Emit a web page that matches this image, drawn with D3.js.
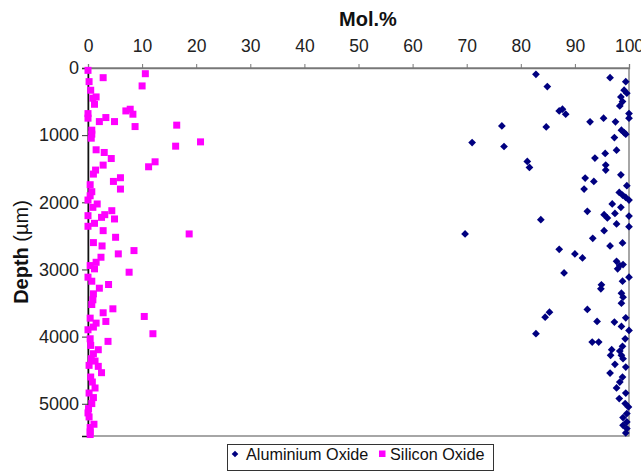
<!DOCTYPE html>
<html>
<head>
<meta charset="utf-8">
<script src="https://cdn.jsdelivr.net/npm/d3@7"></script>
<style>
  body { margin: 0; background: #fff; }
  text { font-family: "Liberation Sans", Arial, sans-serif; }
</style>
</head>
<body>
<div id="chart"></div>
<script>
// [Mol.%, depth in µm]
const aluminium = [
  [82.8, 94], [96.5, 144], [84.9, 277], [99.4, 203], [99.1, 331], [99.6, 376],
  [98.5, 431], [98.8, 500], [98.3, 565], [87.1, 639], [87.7, 614], [88.3, 688],
  [100, 679], [100, 747], [76.5, 862], [84.7, 877], [92.8, 802], [95.3, 747],
  [97.5, 802], [98.6, 926], [99.1, 961], [99.4, 985], [71.0, 1110], [76.9, 1169],
  [97.3, 1035], [97.7, 1223], [95.6, 1273], [93.7, 1342], [81.2, 1392], [81.6, 1481],
  [95.7, 1446], [95.7, 1520], [91.9, 1639], [93.5, 1689], [98.5, 1590], [91.7, 1803],
  [99.6, 1753], [98.2, 1853], [98.8, 1892], [99.4, 1927], [100, 1966], [96.9, 2025],
  [98.5, 2075], [92.3, 2135], [97.4, 2165], [95.4, 2184], [96.0, 2233], [100, 2204],
  [83.7, 2258], [97.7, 2323], [100, 2363], [95.4, 2422], [69.7, 2471], [93.3, 2536],
  [98.8, 2605], [96.5, 2650], [87.1, 2700], [90.0, 2768], [91.4, 2828], [97.7, 2878],
  [98.3, 2942], [98.9, 2927], [97.9, 2991], [88.0, 3051], [100, 3115], [98.8, 3175],
  [94.9, 3229], [94.8, 3289], [98.6, 3353], [98.9, 3413], [98.6, 3502], [92.3, 3596],
  [85.3, 3636], [84.5, 3710], [99.4, 3720], [94.1, 3774], [97.3, 3784], [98.6, 3848],
  [82.8, 3957], [100, 3908], [99.3, 4032], [93.2, 4081], [94.4, 4081], [98.8, 4145],
  [96.8, 4195], [98.3, 4215], [96.6, 4279], [98.6, 4279], [98.9, 4329], [97.4, 4413],
  [99.4, 4453], [96.5, 4542], [98.8, 4602], [98.3, 4676], [97.7, 4765], [99.4, 4840],
  [98.2, 4923], [99.3, 4997], [99.9, 5047], [99.6, 5146], [98.9, 5205], [99.6, 5270],
  [98.9, 5320], [99.6, 5369], [99.4, 5434]
];

const silicon = [
  [0, 35], [2.8, 144], [10.6, 85], [10.0, 267], [0.2, 203], [0.5, 331], [1.5, 431],
  [0.9, 450], [1.2, 540], [0, 679], [0, 747], [7.0, 639], [7.8, 614], [8.3, 688],
  [3.3, 738], [2.1, 798], [4.9, 798], [8.7, 872], [16.4, 851], [0.7, 926], [0.7, 985],
  [0.6, 1045], [16.2, 1164], [20.8, 1100], [1.5, 1218], [3.0, 1258], [4.3, 1348],
  [2.8, 1446], [11.2, 1471], [12.4, 1397], [1.4, 1520], [1.0, 1580], [6.0, 1634],
  [4.7, 1689], [6.0, 1803], [0.4, 1738], [0.7, 1842], [0.4, 1902], [0, 1966],
  [1.7, 2025], [0.9, 2075], [4.4, 2125], [3.1, 2184], [4.9, 2248], [2.5, 2224],
  [0, 2199], [1.2, 2313], [0, 2357], [2.8, 2422], [18.7, 2471], [5.1, 2521],
  [1.0, 2600], [2.6, 2650], [5.6, 2768], [8.5, 2719], [2.4, 2818], [1.5, 2893],
  [0.4, 2942], [1.2, 2991], [7.6, 3041], [0, 3115], [0.7, 3175], [3.8, 3224],
  [2.1, 3279], [1.0, 3363], [0.9, 3452], [0.7, 3522], [4.6, 3586], [2.8, 3645],
  [10.4, 3700], [0.4, 3725], [3.3, 3774], [1.5, 3799], [1.0, 3858], [0, 3898],
  [12.0, 3957], [0.4, 4032], [3.7, 4071], [0.5, 4131], [1.9, 4195], [1.0, 4255],
  [0.6, 4329], [1.3, 4364], [0.2, 4428], [1.9, 4443], [2.5, 4537], [0.5, 4602],
  [0.8, 4676], [1.3, 4765], [0.2, 4840], [1.0, 4908], [0.7, 4997], [0.1, 5072],
  [0, 5136], [0.2, 5196], [1.1, 5305], [0.4, 5354], [0.4, 5419], [0.4, 5458]
];

const xTicks = [0, 10, 20, 30, 40, 50, 60, 70, 80, 90, 100];
const yTicks = [0, 1000, 2000, 3000, 4000, 5000];
const legendLabels = ["Aluminium Oxide", "Silicon Oxide"];

const width = 641,
  height = 472;
const margin = { top: 68, right: 12, bottom: 36, left: 88 };

const svg = d3
  .select("#chart")
  .append("svg")
  .attr("width", width)
  .attr("height", height);

const x = d3
  .scaleLinear()
  .domain([0, 100])
  .range([margin.left, width - margin.right]);

const y = d3
  .scaleLinear()
  .domain([0, 5480])
  .range([margin.top, height - margin.bottom]);

// frame
svg
  .append("rect")
  .attr("x", x(0))
  .attr("y", y(0))
  .attr("width", x(100) - x(0))
  .attr("height", y(5480) - y(0))
  .attr("fill", "none")
  .attr("stroke", "#777")
  .attr("stroke-width", 1.3);

const xAxis = svg
  .append("g")
  .attr("transform", `translate(0,${y(0)})`)
  .call(d3.axisTop(x).tickValues(xTicks).tickSize(4).tickPadding(12));
xAxis.select(".domain").attr("stroke", "#777").attr("stroke-width", 1.3);
xAxis.selectAll(".tick line").attr("stroke", "#777");
xAxis.selectAll("text").attr("font-size", 17.5).attr("fill", "#222");

const yAxis = svg
  .append("g")
  .attr("transform", `translate(${x(0)},0)`)
  .call(d3.axisLeft(y).tickValues(yTicks).tickFormat(d3.format("d")).tickSize(6).tickPadding(3));
yAxis.select(".domain").attr("stroke", "#111").attr("stroke-width", 1.5);
yAxis.selectAll(".tick line").attr("stroke", "#333");
yAxis.selectAll("text").attr("font-size", 18).attr("fill", "#222");

svg
  .append("text")
  .attr("x", 368)
  .attr("y", 26)
  .attr("text-anchor", "middle")
  .attr("font-size", 20)
  .attr("font-weight", "bold")
  .attr("fill", "#111")
  .text("Mol.%");

const yLabel = svg
  .append("text")
  .attr("transform", "translate(28,252) rotate(-90)")
  .attr("text-anchor", "middle")
  .attr("font-size", 20)
  .attr("fill", "#111");
yLabel.append("tspan").attr("font-weight", "bold").text("Depth ");
yLabel.append("tspan").text("(µm)");

const diamond = d3.symbol().type(d3.symbolSquare).size(30);

svg
  .append("g")
  .selectAll("path")
  .data(aluminium)
  .enter()
  .append("path")
  .attr("d", diamond)
  .attr("transform", (d) => `translate(${x(d[0])},${y(d[1])}) rotate(45)`)
  .attr("fill", "#000080");

svg
  .append("g")
  .selectAll("rect")
  .data(silicon)
  .enter()
  .append("rect")
  .attr("x", (d) => x(d[0]) - 3.5)
  .attr("y", (d) => y(d[1]) - 3.5)
  .attr("width", 7)
  .attr("height", 7)
  .attr("fill", "#ff00ff");

// legend
const legend = svg.append("g");
legend
  .append("rect")
  .attr("x", 227.5)
  .attr("y", 444.5)
  .attr("width", 266)
  .attr("height", 26)
  .attr("fill", "#fff")
  .attr("stroke", "#333");

legend
  .append("path")
  .attr("d", d3.symbol().type(d3.symbolSquare).size(22))
  .attr("transform", "translate(235,454) rotate(45)")
  .attr("fill", "#000080");
legend
  .append("text")
  .attr("x", 246)
  .attr("y", 460)
  .attr("font-size", 16.2)
  .attr("fill", "#111")
  .text(legendLabels[0]);

legend
  .append("rect")
  .attr("x", 379)
  .attr("y", 450.5)
  .attr("width", 6.5)
  .attr("height", 6.5)
  .attr("fill", "#ff00ff");
legend
  .append("text")
  .attr("x", 390)
  .attr("y", 460)
  .attr("font-size", 16.2)
  .attr("fill", "#111")
  .text(legendLabels[1]);
</script>
</body>
</html>
